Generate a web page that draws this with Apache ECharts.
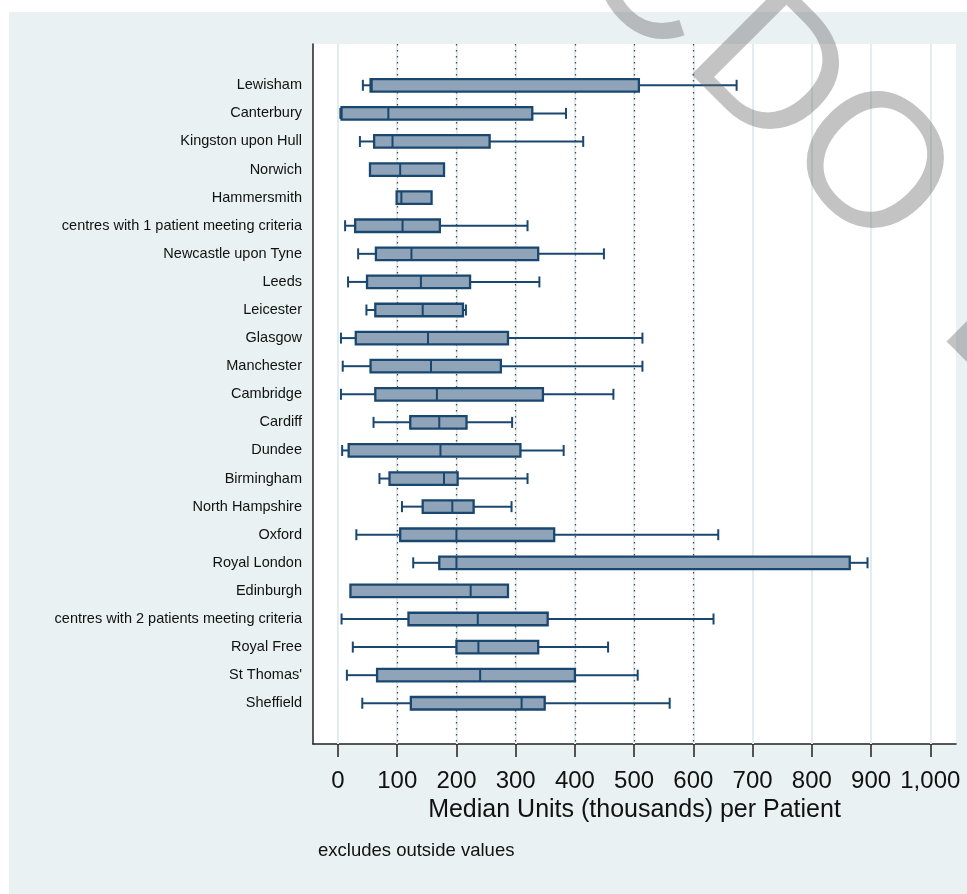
<!DOCTYPE html>
<html>
<head>
<meta charset="utf-8">
<script src="https://cdn.jsdelivr.net/npm/echarts@6/dist/echarts.min.js"></script>
<style>
  html, body { margin: 0; padding: 0; background: #fff; }
  #chart { width: 967px; height: 894px; }
</style>
</head>
<body>
<div id="chart"></div>
<script>
// centres, sorted by median (top to bottom)
const centres = [
  'Lewisham', 'Canterbury', 'Kingston upon Hull', 'Norwich', 'Hammersmith',
  'centres with 1 patient meeting criteria', 'Newcastle upon Tyne', 'Leeds', 'Leicester',
  'Glasgow', 'Manchester', 'Cambridge', 'Cardiff', 'Dundee', 'Birmingham',
  'North Hampshire', 'Oxford', 'Royal London', 'Edinburgh',
  'centres with 2 patients meeting criteria', 'Royal Free', "St Thomas'", 'Sheffield'
]
const lowWhisker = [42, 4, 37, 54, 99, 12, 34, 17, 48, 5, 8, 5, 60, 7, 70, 108, 31, 127, 21, 6, 25, 15, 41]
const q1 = [55, 6, 61, 54, 99, 29, 64, 49, 63, 30, 55, 63, 122, 18, 87, 143, 105, 171, 21, 119, 200, 66, 123]
const median = [57, 85, 92, 105, 107, 109, 124, 140, 143, 152, 157, 167, 171, 173, 179, 193, 200, 200, 224, 236, 237, 240, 310]
const q3 = [508, 328, 256, 179, 158, 172, 338, 223, 211, 287, 275, 346, 217, 308, 202, 229, 365, 864, 287, 354, 338, 400, 349]
const highWhisker = [673, 385, 414, 179, 158, 320, 449, 340, 216, 514, 514, 465, 294, 381, 320, 293, 642, 894, 287, 634, 456, 506, 560]

const xTicks = [0, 100, 200, 300, 400, 500, 600, 700, 800, 900, 1000]
const refLines = [100, 200, 300, 400, 500, 600]

const NAVY = '#1a476f'
const FILL = '#8fa4b9'
const FONT = "'Liberation Sans', Arial, sans-serif"
const Y_MIN = -1.47
const Y_MAX = 23.45

const rows = centres.map((c, i) => [i, lowWhisker[i], q1[i], median[i], q3[i], highWhisker[i]])

function renderBox(params, api) {
  const i = api.value(0)
  const lo = api.coord([api.value(1), i])
  const a = api.coord([api.value(2), i])
  const m = api.coord([api.value(3), i])
  const b = api.coord([api.value(4), i])
  const hi = api.coord([api.value(5), i])
  const y = a[1]
  const h = 12.5
  const cap = 5.5
  const ls = { stroke: NAVY, lineWidth: 2, fill: null }
  const kids = []
  if (lo[0] < a[0] - 0.5) {
    kids.push({ type: 'line', shape: { x1: lo[0], y1: y, x2: a[0], y2: y }, style: ls })
    kids.push({ type: 'line', shape: { x1: lo[0], y1: y - cap, x2: lo[0], y2: y + cap }, style: ls })
  }
  if (hi[0] > b[0] + 0.5) {
    kids.push({ type: 'line', shape: { x1: b[0], y1: y, x2: hi[0], y2: y }, style: ls })
    kids.push({ type: 'line', shape: { x1: hi[0], y1: y - cap, x2: hi[0], y2: y + cap }, style: ls })
  }
  kids.push({
    type: 'rect',
    shape: { x: a[0], y: y - h / 2, width: b[0] - a[0], height: h },
    style: { fill: FILL, stroke: NAVY, lineWidth: 2.3 }
  })
  kids.push({ type: 'line', shape: { x1: m[0], y1: y - h / 2, x2: m[0], y2: y + h / 2 }, style: ls })
  return { type: 'group', children: kids }
}

// vertical reference lines, given as coord pairs spanning the whole y range
const vline = (v, lineStyle) => [{ coord: [v, Y_MIN], lineStyle }, { coord: [v, Y_MAX] }]
const gridLines = xTicks.map(v => vline(v, { color: '#e3ecef', width: 2, type: 'solid' }))
  .concat(refLines.map(v => vline(v, { color: '#4a4a4a', width: 1.3, type: [1.5, 4.5] })))

const wm = { fontSize: 190, fontFamily: FONT, fill: 'rgba(105,105,105,0.4)', align: 'center', verticalAlign: 'middle' }
const wmLetter = (t, x, y) => ({ type: 'text', x, y, rotation: -Math.PI / 4, z: 100, silent: true, style: Object.assign({ text: t }, wm) })

const chart = echarts.init(document.getElementById('chart'))
chart.setOption({
  animation: false,
  backgroundColor: '#e9f1f3',
  grid: {
    left: 313, top: 44, width: 643, height: 700,
    show: true, backgroundColor: '#ffffff', borderWidth: 0
  },
  xAxis: {
    type: 'value',
    min: -42.2,
    max: 1043.4,
    axisLine: { show: true, onZero: false, lineStyle: { color: '#222', width: 1.5 } },
    axisTick: { show: true, customValues: xTicks, length: 13, lineStyle: { color: '#222', width: 1.5 } },
    axisLabel: {
      customValues: xTicks,
      margin: 25,
      fontSize: 24,
      fontFamily: FONT,
      color: '#111',
      formatter: v => v >= 1000 ? v.toLocaleString('en-US') : String(v)
    },
    splitLine: { show: false },
    name: 'Median Units (thousands) per Patient',
    nameLocation: 'middle',
    nameGap: 53,
    nameTextStyle: { fontSize: 25, fontFamily: FONT, color: '#111' }
  },
  yAxis: {
    type: 'value',
    inverse: true,
    min: Y_MIN,
    max: Y_MAX,
    axisLine: { show: true, onZero: false, lineStyle: { color: '#222', width: 1.5 } },
    axisTick: { show: false },
    splitLine: { show: false },
    axisLabel: {
      customValues: centres.map((c, i) => i),
      formatter: v => centres[v] || '',
      margin: 11,
      fontSize: 14.5,
      fontFamily: FONT,
      color: '#111'
    }
  },
  series: [{
    type: 'custom',
    z: 3,
    renderItem: renderBox,
    encode: { x: [1, 2, 3, 4, 5], y: 0 },
    data: rows,
    silent: true,
    markLine: {
      z: 1,
      silent: true,
      symbol: ['none', 'none'],
      label: { show: false },
      emphasis: { disabled: true },
      data: gridLines
    }
  }],
  graphic: [
    { type: 'rect', shape: { x: 0, y: 0, width: 967, height: 12 }, style: { fill: '#ffffff' }, silent: true },
    { type: 'rect', shape: { x: 0, y: 0, width: 9, height: 894 }, style: { fill: '#ffffff' }, silent: true },
    {
      type: 'text', x: 318, y: 851, silent: true,
      style: { text: 'excludes outside values', fontSize: 18.5, fontFamily: FONT, fill: '#111', verticalAlign: 'middle' }
    },
    wmLetter('C', 655, -22),
    wmLetter('D', 766, 75),
    wmLetter('O', 866, 169),
    wmLetter('D', 1021, 342)
  ]
})
</script>
</body>
</html>
